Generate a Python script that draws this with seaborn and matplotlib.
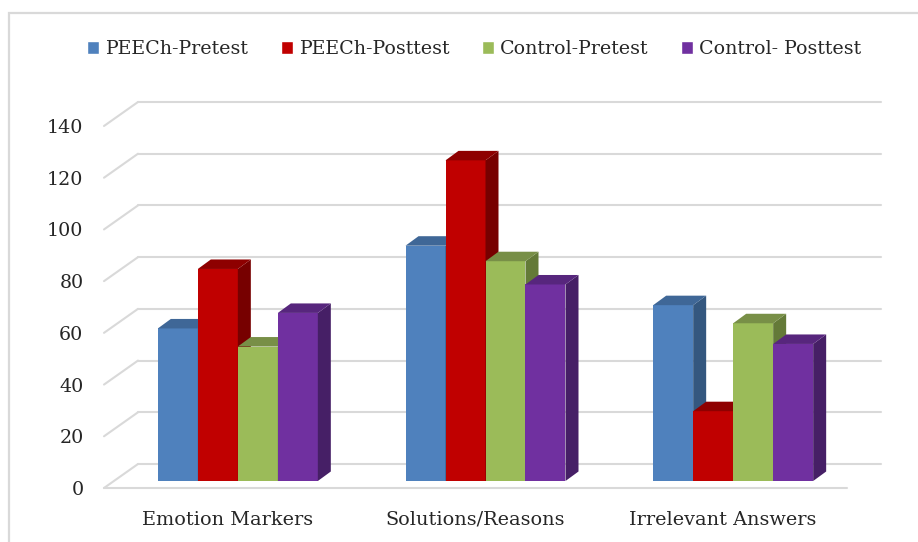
import pandas as pd
import seaborn as sns
import matplotlib
import matplotlib.pyplot as plt
from matplotlib.patches import Polygon, Rectangle
from matplotlib.transforms import Affine2D

matplotlib.use('Agg')

categories = ['Emotion Markers', 'Solutions/Reasons', 'Irrelevant Answers']
groups = ['PEECh-Pretest', 'PEECh-Posttest', 'Control-Pretest', 'Control- Posttest']
peech_pre = [59, 91, 68]
peech_post = [82, 124, 27]
control_pre = [52, 85, 61]
control_post = [65, 76, 53]
y_ticks = [0, 20, 40, 60, 80, 100, 120, 140]

front_colors = ['#4F81BD', '#C00000', '#9BBB59', '#7030A0']
top_colors = ['#3F6797', '#8E0000', '#788F47', '#57267D']
side_colors = ['#34577F', '#770000', '#647A38', '#461F66']
grid_color = '#D9D9D9'
text_color = '#262626'

W, H = 918, 542

df = pd.DataFrame({
    'category': categories * 4,
    'group': [g for g in groups for _ in categories],
    'value': peech_pre + peech_post + control_pre + control_post,
})

sns.set_theme(style='white')
plt.rcParams['font.family'] = ['DejaVu Serif']

fig = plt.figure(figsize=(W / 100, H / 100), dpi=100)
# Axes is the plane the bars stand in
left, right, base, top = 114, 857, 481, 119
ax = fig.add_axes([left / W, 1 - base / H, (right - left) / W, (base - top) / H])
ax.patch.set_alpha(0)

sns.barplot(data=df, x='category', y='value', hue='group', hue_order=groups, order=categories,
            palette=front_colors, width=0.646, gap=0, saturation=1, ax=ax, zorder=3)
ax.set_xlim(-0.5, 2.5)
ax.set_ylim(0, 140)
ax.set_xlabel('')
ax.set_ylabel('')
for spine in ax.spines.values():
    spine.set_visible(False)

# Pixel offsets of the back wall and the front floor edge
wall = ax.transData + Affine2D().translate(24, 17)
front = ax.transData + Affine2D().translate(-10, -7)
x0, x1 = ax.get_xlim()
per_px_x = (x1 - x0) / (right - left)
per_px_y = 140 / (base - top)

for v in y_ticks:
    ax.plot([x0, x1], [v, v], color=grid_color, lw=1.5, transform=wall, clip_on=False, zorder=1)
    p0 = wall.transform((x0, v))
    p1 = front.transform((x0, v))
    ax.plot([p0[0], p1[0]], [p0[1], p1[1]], color=grid_color, lw=1.5, transform=None, clip_on=False, zorder=1)
ax.plot([x0, x1], [0, 0], color=grid_color, lw=1.5, transform=front, clip_on=False, zorder=1)

# Side and top faces for each bar
depth_x = 13 * per_px_x
depth_y = 9.5 * per_px_y
for i, container in enumerate(ax.containers):
    for bar in container:
        bx, bw, bh = bar.get_x(), bar.get_width(), bar.get_height()
        z = 3 + i * 0.1
        bar.set_zorder(z)
        bar.set_linewidth(0)
        ax.add_patch(Polygon([(bx + bw, 0), (bx + bw + depth_x, depth_y), (bx + bw + depth_x, bh + depth_y),
                              (bx + bw, bh)], closed=True, fc=side_colors[i], ec='none', zorder=z, clip_on=False))
        ax.add_patch(Polygon([(bx, bh), (bx + bw, bh), (bx + bw + depth_x, bh + depth_y),
                              (bx + depth_x, bh + depth_y)], closed=True, fc=top_colors[i], ec='none', zorder=z,
                             clip_on=False))

# Tick labels sit on the front plane
ax.set_yticks(y_ticks)
ax.tick_params(axis='y', length=0, pad=22, labelsize=13.7, labelcolor=text_color)
ax.tick_params(axis='x', length=0, pad=31.5, labelsize=13.9, labelcolor=text_color)
for label in ax.get_yticklabels():
    label.set_transform(label.get_transform() + Affine2D().translate(0, -7))
for label in ax.get_xticklabels():
    label.set_verticalalignment('baseline')
    label.set_transform(label.get_transform() + Affine2D().translate(-10, 0))

handles, labels = ax.get_legend_handles_labels()
ax.legend(handles, labels, ncol=4, loc='center left', bbox_to_anchor=(87 / W, 1 - 49 / H),
          bbox_transform=fig.transFigure, frameon=False, fontsize=13.7, labelcolor=text_color,
          handlelength=0.63, handleheight=0.63, handletextpad=0.32, columnspacing=1.72, borderpad=0,
          borderaxespad=0)

fig.add_artist(Rectangle((9 / W, -0.02), 1.2, 1 - 13 / H + 0.02, transform=fig.transFigure, fc='none',
                         ec=grid_color, lw=1.6))

fig.savefig('out.png', dpi=100)
plt.close()
